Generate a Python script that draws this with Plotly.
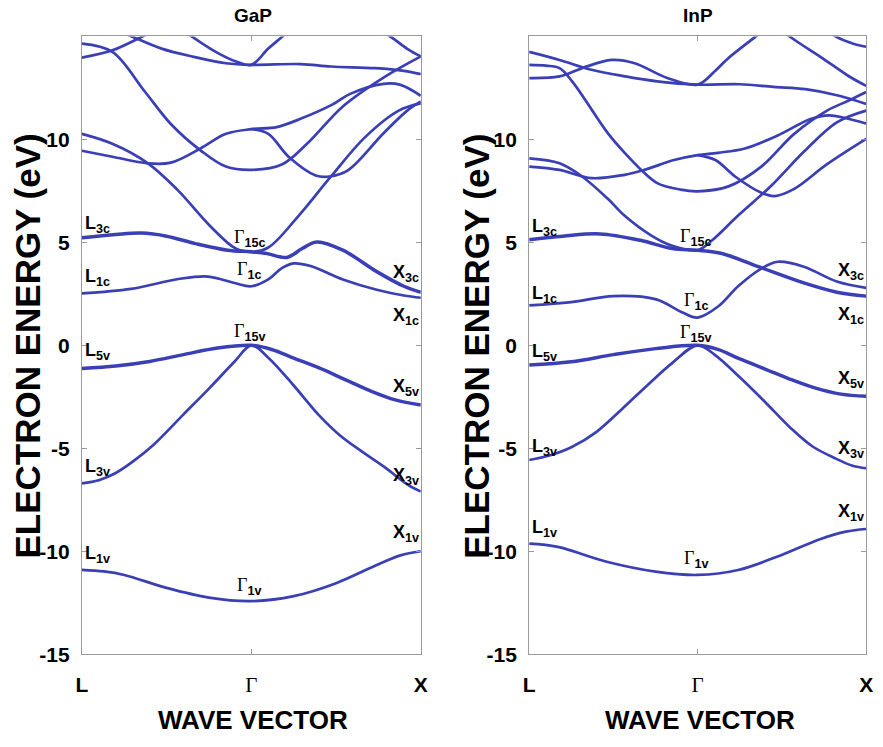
import plotly.graph_objects as go

# ---------------- data: band energies (eV) along L(-1) - Gamma(0) - X(1) ----------------
# GaP
gap_b1 = [(-1, -10.9), (-0.87, -10.98), (-0.75, -11.15), (-0.5, -11.78), (-0.25, -12.25), (0, -12.42),
          (0.25, -12.18), (0.5, -11.55), (0.74, -10.67), (0.88, -10.2), (1, -10.0)]
gap_b2 = [(-1, -6.7), (-0.9, -6.55), (-0.8, -6.2), (-0.7, -5.65), (-0.58, -4.85), (-0.4, -3.35), (-0.25, -2.1),
          (-0.1, -0.8), (0, 0), (0.1, -0.6), (0.25, -1.95), (0.4, -3.4), (0.52, -4.35), (0.66, -5.2),
          (0.8, -6.0), (0.92, -6.75), (1, -7.1)]
gap_b3 = [(-1, -1.12), (-0.8, -1.0), (-0.6, -0.78), (-0.4, -0.45), (-0.2, -0.13), (0, 0),
          (0.12, -0.2), (0.25, -0.62), (0.4, -1.1), (0.55, -1.65), (0.7, -2.2), (0.85, -2.65), (1, -2.9)]
gap_b5 = [(-1, 2.52), (-0.71, 2.74), (-0.43, 3.22), (-0.255, 3.34), (-0.1, 3.03), (0, 2.87), (0.1, 3.2),
          (0.18, 3.75), (0.25, 3.98), (0.35, 3.85), (0.54, 3.2), (0.74, 2.7), (0.9, 2.42), (1, 2.31)]
gap_b6 = [(-1, 5.22), (-0.8, 5.38), (-0.65, 5.45), (-0.5, 5.3), (-0.33, 4.94), (-0.14, 4.62), (0, 4.54),
          (0.09, 4.46), (0.21, 4.27), (0.3, 4.7), (0.386, 5.02), (0.54, 4.62), (0.74, 3.58), (0.9, 2.87), (1, 2.58)]
gap_b7 = [(-1, 10.27), (-0.82, 9.79), (-0.61, 8.84), (-0.437, 7.56), (-0.245, 5.81), (-0.092, 4.7), (0, 4.54),
          (0.1, 4.75), (0.28, 6.3), (0.47, 8.2), (0.67, 10.1), (0.87, 11.4), (1, 11.75)]
gap_b8 = [(-1, 9.45), (-0.82, 9.16), (-0.61, 8.84), (-0.475, 8.87), (-0.3, 9.56), (-0.15, 10.27), (0, 10.5),
          (0.15, 10.6), (0.29, 11.0), (0.48, 11.7), (0.58, 12.2), (0.78, 12.7), (0.88, 12.65), (1, 12.12)]
gap_b9 = [(-1, 14.65), (-0.82, 14.25), (-0.63, 12.34), (-0.475, 10.75), (-0.3, 9.47), (-0.15, 8.68), (0, 8.52),
          (0.18, 8.78), (0.33, 9.8), (0.54, 11.6), (0.78, 13.0), (1, 14.03)]
gap_b10 = [(0, 10.5), (0.1, 10.27), (0.22, 9.16), (0.38, 8.25), (0.46, 8.2), (0.57, 8.5), (0.78, 10.3),
           (0.92, 11.4), (1, 11.85)]
gap_b11 = [(-1, 13.97), (-0.82, 14.33), (-0.667, 14.9), (-0.5, 15.6)]
gap_b12 = [(-0.85, 15.5), (-0.72, 15.05), (-0.53, 14.41), (-0.34, 14.01), (-0.15, 13.7), (0, 13.62),
           (0.29, 13.66), (0.47, 13.54), (0.73, 13.46), (0.9, 13.33), (1, 13.17)]
gap_b13 = [(-0.45, 15.6), (-0.36, 15.05), (-0.21, 14.25), (-0.09, 13.78), (0, 13.62), (0.1, 14.41),
           (0.18, 14.97), (0.25, 15.5)]
gap_b14 = [(0.7, 15.6), (0.825, 14.97), (0.92, 14.4), (1, 14.03)]

# InP
inp_b1 = [(-1, -9.63), (-0.83, -9.79), (-0.54, -10.51), (-0.25, -10.99), (0, -11.15), (0.24, -10.91),
          (0.495, -10.19), (0.73, -9.4), (0.88, -9.05), (1, -8.92)]
inp_b2 = [(-1, -5.57), (-0.88, -5.35), (-0.75, -4.95), (-0.6, -4.2), (-0.45, -3.1), (-0.3, -1.95),
          (-0.15, -0.85), (0, 0), (0.1, -0.45), (0.25, -1.55), (0.4, -2.75), (0.55, -4.0), (0.68, -4.9),
          (0.82, -5.5), (0.92, -5.85), (1, -5.97)]
inp_b3 = [(-1, -0.96), (-0.75, -0.8), (-0.5, -0.45), (-0.25, -0.16), (0, 0), (0.12, -0.2), (0.25, -0.66),
          (0.4, -1.15), (0.55, -1.65), (0.7, -2.08), (0.85, -2.37), (1, -2.47)]
inp_b5 = [(-1, 1.94), (-0.75, 2.1), (-0.5, 2.39), (-0.246, 2.23), (-0.09, 1.59), (0, 1.35), (0.125, 1.91),
          (0.24, 2.87), (0.38, 3.74), (0.476, 4.06), (0.63, 3.82), (0.826, 3.1), (1, 2.79)]
inp_b6 = [(-1, 5.13), (-0.8, 5.3), (-0.58, 5.41), (-0.34, 5.1), (-0.15, 4.7), (0, 4.62), (0.144, 4.46),
          (0.36, 3.82), (0.63, 3.03), (0.826, 2.58), (1, 2.39)]
inp_b7 = [(-1, 9.08), (-0.82, 8.84), (-0.686, 8.2), (-0.53, 7.09), (-0.433, 6.29), (-0.277, 5.34),
          (-0.16, 4.86), (0, 4.62), (0.086, 5.1), (0.24, 6.3), (0.437, 7.75), (0.63, 9.4), (0.826, 10.83), (1, 11.4)]
inp_b8 = [(-1, 8.68), (-0.82, 8.52), (-0.63, 8.12), (-0.433, 8.28), (-0.316, 8.52), (-0.14, 9.0), (0, 9.24),
          (0.12, 9.35), (0.28, 9.56), (0.475, 10.19), (0.67, 10.99), (0.78, 11.17), (0.87, 11.05), (1, 10.77)]
inp_b9 = [(-1, 13.62), (-0.9, 13.58), (-0.82, 13.46), (-0.745, 12.82), (-0.53, 10.27), (-0.43, 9.32),
          (-0.335, 8.52), (-0.24, 7.88), (-0.1, 7.56), (0, 7.48), (0.183, 7.72), (0.378, 8.68), (0.573, 10.27),
          (0.768, 11.4), (0.9, 11.9), (1, 12.3)]
inp_b10 = [(0, 9.24), (0.105, 9.0), (0.222, 8.2), (0.378, 7.41), (0.456, 7.25), (0.573, 7.6), (0.768, 8.8),
           (1, 10.03)]
inp_b11 = [(-1, 12.98), (-0.82, 13.06), (-0.686, 13.46), (-0.51, 13.86), (-0.374, 13.7), (-0.18, 12.98),
           (0, 12.66), (0.1, 13.3), (0.18, 13.93), (0.34, 14.97), (0.42, 15.5)]
inp_b12 = [(-1, 14.25), (-0.82, 13.86), (-0.63, 13.38), (-0.43, 13.06), (-0.24, 12.82), (0, 12.66),
           (0.25, 12.68), (0.45, 12.55), (0.64, 12.44), (0.84, 12.12), (1, 11.72)]
inp_b13 = [(0.45, 15.6), (0.563, 14.9), (0.74, 13.95), (0.895, 13.08), (1, 12.6)]
inp_b14 = [(0.75, 15.4), (0.826, 14.97), (0.924, 14.65), (1, 14.5)]

gap_bands = [gap_b1, gap_b2, gap_b3, gap_b5, gap_b6, gap_b7, gap_b8, gap_b9, gap_b10,
             gap_b11, gap_b12, gap_b13, gap_b14]
inp_bands = [inp_b1, inp_b2, inp_b3, inp_b5, inp_b6, inp_b7, inp_b8, inp_b9, inp_b10,
             inp_b11, inp_b12, inp_b13, inp_b14]
thick_bands = {2, 4}   # indices of degenerate (doubled) bands

# symmetry-point labels: (point, subscript, energy)
gap_labels = [("L", "3c", 5.85), ("L", "1c", 3.3), ("L", "5v", -0.3), ("L", "3v", -5.95), ("L", "1v", -10.15),
              ("G", "15c", 5.2), ("G", "1c", 3.63), ("G", "15v", 0.62), ("G", "1v", -11.7),
              ("X", "3c", 3.49), ("X", "1c", 1.39), ("X", "5v", -2.05), ("X", "3v", -6.35), ("X", "1v", -9.13)]
inp_labels = [("L", "3c", 5.73), ("L", "1c", 2.48), ("L", "5v", -0.33), ("L", "3v", -4.97), ("L", "1v", -8.89),
              ("G", "15c", 5.26), ("G", "1c", 2.15), ("G", "15v", 0.57), ("G", "1v", -10.42),
              ("X", "3c", 3.58), ("X", "1c", 1.43), ("X", "5v", -1.67), ("X", "3v", -5.06), ("X", "1v", -8.12)]

panel_titles = ["GaP", "InP"]
y_ticks = [-15, -10, -5, 0, 5, 10]
k_ticks = [-1, 0, 1]

# ---------------- styling ----------------
LINE = "#3b3fb6"
SANS = "Liberation Sans"
GAMMA = '<span style="font-family:Liberation Serif;font-weight:normal">\u0393</span>'

fig = go.Figure()
for bands, xa, ya in [(gap_bands, "x", "y"), (inp_bands, "x2", "y2")]:
    for j, b in enumerate(bands):
        fig.add_trace(go.Scatter(
            x=[p[0] for p in b], y=[p[1] for p in b], mode="lines",
            line=dict(color=LINE, width=3.5 if j in thick_bands else 2.7, shape="spline", smoothing=1.0),
            xaxis=xa, yaxis=ya, showlegend=False, hoverinfo="skip"))

axis_common = dict(showgrid=False, zeroline=False, showline=True, linecolor="#9a9a9a", linewidth=1,
                   mirror="ticks", ticks="inside", ticklen=5, tickcolor="#9a9a9a")
yax = dict(axis_common, range=[-15, 15], tickvals=y_ticks, ticktext=[str(v) for v in y_ticks],
           tickfont=dict(family=SANS, size=21, color="black", weight="bold"), ticklabelstandoff=7)
xax = dict(axis_common, range=[-1, 1], tickvals=k_ticks, ticktext=["L", GAMMA, "X"],
           tickfont=dict(family=SANS, size=21, color="black", weight="bold"), ticklabelstandoff=12)

W, H = 883, 747
fig.update_layout(
    width=W, height=H, margin=dict(l=0, r=0, t=0, b=0), autosize=False,
    plot_bgcolor="white", paper_bgcolor="white",
    xaxis=dict(xax, domain=[77 / W, 421 / W], anchor="y"),
    yaxis=dict(yax, domain=[1 - 664 / H, 1 - 37 / H], anchor="x"),
    xaxis2=dict(xax, domain=[531 / W, 873 / W], anchor="y2"),
    yaxis2=dict(yax, domain=[1 - 664 / H, 1 - 37 / H], anchor="x2"),
)

ann = []
for labels, xr, yr in [(gap_labels, "x", "y"), (inp_labels, "x2", "y2")]:
    for pt, sub, e in labels:
        if pt == "L":
            kx, anchor, shift, main = -1, "left", 1, "L"
        elif pt == "X":
            kx, anchor, shift, main = 1, "right", 0, "X"
        else:
            kx, anchor, shift, main = 0, "center", -2, GAMMA
        ann.append(dict(x=kx, y=e, xref=xr, yref=yr, xanchor=anchor, yanchor="middle", xshift=shift,
                        text=f"{main}<sub>{sub}</sub>", showarrow=False,
                        font=dict(family=SANS, size=18, color="black", weight="bold")))

for title, cx in zip(panel_titles, [251, 702]):
    ann.append(dict(x=cx / W, y=1 - 16 / H, xref="paper", yref="paper", text=title, showarrow=False,
                    xanchor="center", yanchor="middle",
                    font=dict(family=SANS, size=19, color="black", weight="bold")))
for cx in [22, 478]:
    ann.append(dict(x=cx / W, y=1 - 351 / H, xref="paper", yref="paper", text="ELECTRON ENERGY (eV)",
                    textangle=-90, showarrow=False, xanchor="center", yanchor="middle",
                    font=dict(family=SANS, size=35, color="black", weight="bold")))
for cx in [251, 704]:
    ann.append(dict(x=cx / W, y=1 - 731 / H, xref="paper", yref="paper", text="WAVE VECTOR",
                    showarrow=False, xanchor="center", yanchor="middle",
                    font=dict(family=SANS, size=26, color="black", weight="bold")))

fig.update_layout(annotations=ann)
fig.write_html("out.html")
